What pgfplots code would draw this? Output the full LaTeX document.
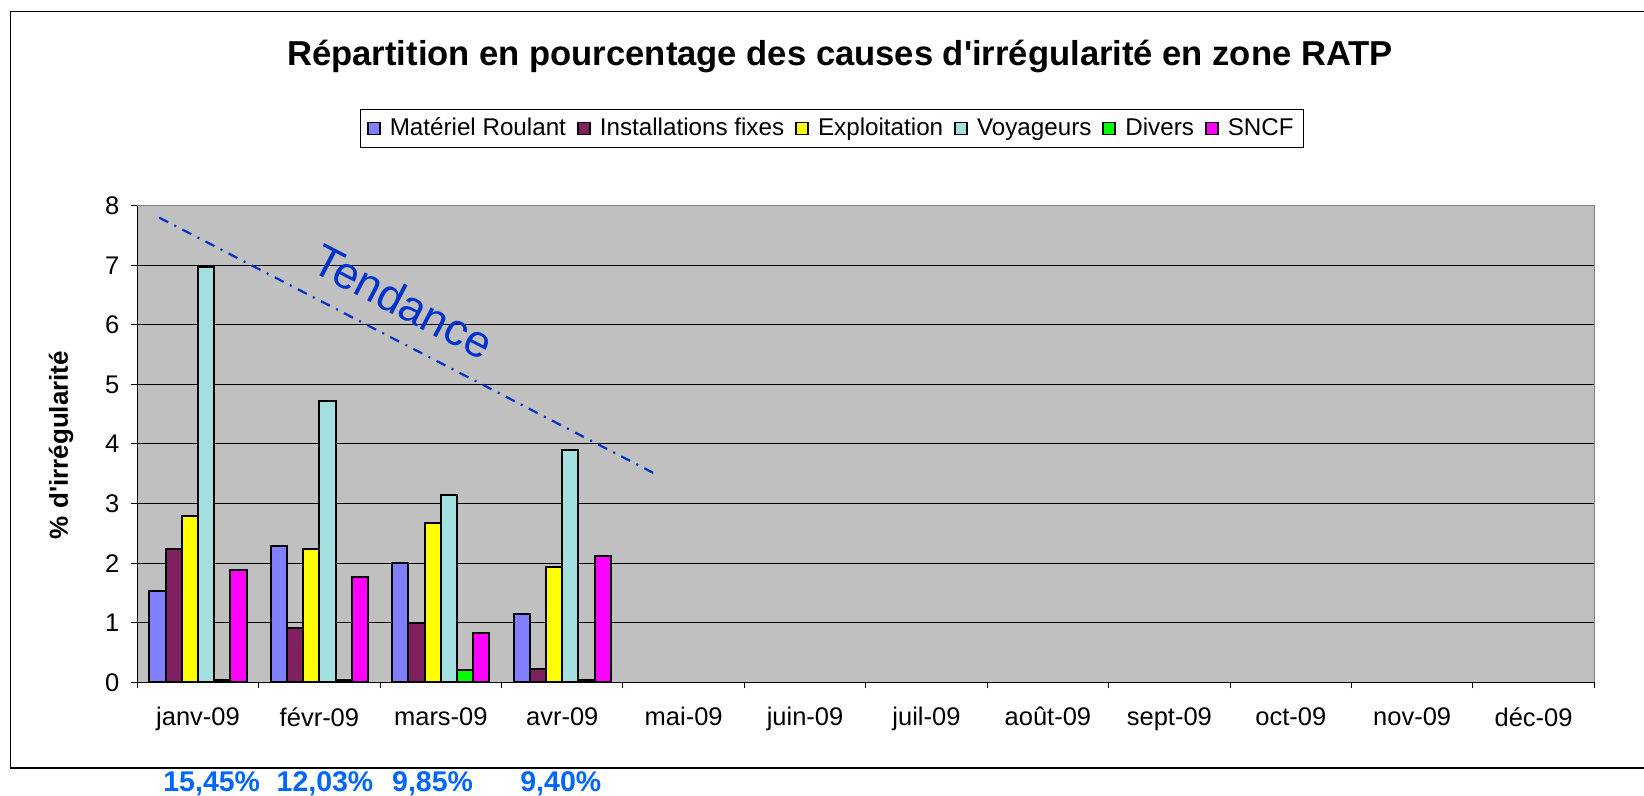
\documentclass[border=0pt]{standalone}
\usepackage{fontspec}
\setmainfont{Liberation Sans}[Ligatures=TeXOff]
\usepackage{pgfplots}
\usepackage{pgfplotstable}
\pgfplotsset{compat=1.18}
\definecolor{cA}{RGB}{128,128,255}
\definecolor{cB}{RGB}{128,32,96}
\definecolor{cC}{RGB}{255,255,0}
\definecolor{cD}{RGB}{164,224,224}
\definecolor{cE}{RGB}{0,255,0}
\definecolor{cF}{RGB}{255,0,255}
\definecolor{plotbg}{RGB}{192,192,192}
\definecolor{tendblue}{RGB}{0,51,204}
\definecolor{pctblue}{RGB}{0,102,255}
\pgfplotstableread{
m mr inst expl voy div sncf
0 1.53 2.24 2.79 6.97 0.04 1.89
1 2.28 0.91 2.24 4.73 0.04 1.77
2 2.00 0.99 2.68 3.15 0.20 0.82
3 1.14 0.22 1.94 3.90 0.04 2.12
}\data
\pgfplotsset{
  mybar/.style={ybar, bar width=8.1pt, draw=black, line width=1pt, fill=#1,
    legend image code/.code={\draw[##1, line width=0.9pt] (0pt,-3pt) rectangle (6pt,3pt); \path (8.5pt,0pt);}},
}
\begin{document}
\begin{tikzpicture}
\begin{axis}[
  scale only axis, width=728.5pt, height=238.3pt,
  xmin=-0.5, xmax=11.5, ymin=0, ymax=8,
  axis x line*=bottom, axis y line*=left,
  axis line style={black, line width=0.6pt},
  axis background/.style={fill=plotbg},
  xtick={-0.5,0.5,...,11.5}, x tick label as interval,
  xticklabels={janv-09,févr-09,mars-09,avr-09,mai-09,juin-09,juil-09,août-09,sept-09,oct-09,nov-09,déc-09},
  ytick={0,1,...,8}, ymajorgrids, grid style={black, line width=0.5pt},
  tick align=outside, major tick length=3pt, tick style={black, line width=0.5pt},
  ticklabel style={font=\fontsize{12.75}{15}\selectfont},
  xticklabel style={yshift=-6pt},
  yticklabel style={xshift=-2.5pt},
  /pgf/number format/assume math mode=true,
  clip=false,
  legend columns=6,
  legend style={at={(0.477,1.162)}, anchor=center, draw=black, line width=0.5pt, fill=white,
    font=\fontsize{12.1}{15}\selectfont, inner xsep=3pt, inner ysep=2.5pt,
    /tikz/every even column/.append style={column sep=3.5pt}},
]
\addplot[mybar=cA, bar shift=-20.25pt] table[x=m, y=mr] {\data};
\addlegendentry{Matériel Roulant}
\addplot[mybar=cB, bar shift=-12.15pt] table[x=m, y=inst] {\data};
\addlegendentry{Installations fixes}
\addplot[mybar=cC, bar shift=-4.05pt] table[x=m, y=expl] {\data};
\addlegendentry{Exploitation}
\addplot[mybar=cD, bar shift=4.05pt] table[x=m, y=voy] {\data};
\addlegendentry{Voyageurs}
\addplot[mybar=cE, bar shift=12.15pt] table[x=m, y=div] {\data};
\addlegendentry{Divers}
\addplot[mybar=cF, bar shift=20.25pt] table[x=m, y=sncf] {\data};
\addlegendentry{SNCF}
\addplot[tendblue, line width=1.1pt, dash pattern=on 5pt off 3.5pt on 1pt off 3.5pt, forget plot]
  coordinates {(-0.319,7.80) (3.764,3.50)};
\draw[gray, line width=0.6pt] (rel axis cs:0,1) -- (rel axis cs:1,1) -- (rel axis cs:1,0);
\node[rotate=-27.5, text=tendblue, font=\fontsize{22.5}{26}\selectfont, inner sep=0pt] at (axis cs:1.69,6.39) {Tendance};
\node[anchor=base, font=\bfseries\fontsize{17.3}{20}\selectfont, inner sep=0pt] at (axis cs:5.288,10.35) {Répartition en pourcentage des causes d'irrégularité en zone RATP};
\node[rotate=90, anchor=center, font=\bfseries\fontsize{13}{15}\selectfont, inner sep=0pt] at (axis cs:-1.128,3.983) {\% d'irrégularité};
\node[anchor=base, text=pctblue, font=\bfseries\fontsize{14.25}{16}\selectfont, inner sep=0pt] at (axis cs:0.113,-1.83) {15,45\%};
\node[anchor=base, text=pctblue, font=\bfseries\fontsize{14.25}{16}\selectfont, inner sep=0pt] at (axis cs:1.046,-1.83) {12,03\%};
\node[anchor=base, text=pctblue, font=\bfseries\fontsize{14.25}{16}\selectfont, inner sep=0pt] at (axis cs:1.932,-1.83) {9,85\%};
\node[anchor=base, text=pctblue, font=\bfseries\fontsize{14.25}{16}\selectfont, inner sep=0pt] at (axis cs:2.988,-1.83) {9,40\%};
\end{axis}
\draw[black, line width=0.65pt] (-63.3pt,-42.85pt) rectangle (756pt,335.3pt);
\pgfresetboundingbox
\useasboundingbox (-68.65pt,-56.85pt) rectangle (753.35pt,341.15pt);
\end{tikzpicture}
\end{document}
